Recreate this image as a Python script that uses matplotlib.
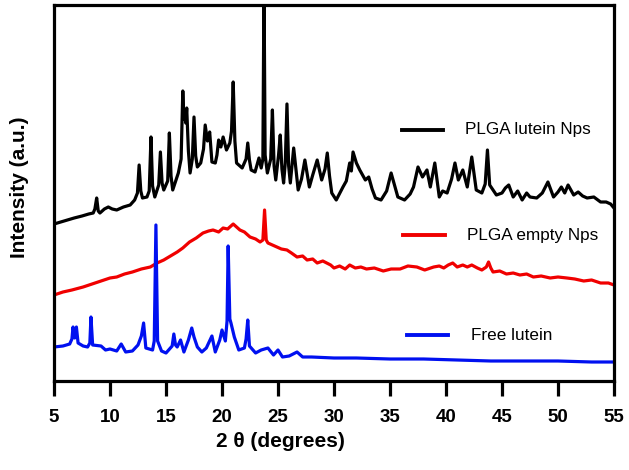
import matplotlib.pyplot as plt
import numpy as np

plt.rcParams['font.family'] = ['Liberation Sans', 'DejaVu Sans']

# 2theta / intensity (a.u.)
lutein_nps_x = [5.0, 5.6, 6.2, 6.8, 7.5, 8.1, 8.5, 8.65, 8.81, 8.95, 9.1, 9.5, 9.85, 10.2, 10.6,
                11.2, 11.8, 12.2, 12.45, 12.6, 12.75, 12.9, 13.3, 13.5, 13.66, 13.8, 14.0, 14.35,
                14.5, 14.65, 14.8, 15.15, 15.3, 15.45, 15.6, 16.1, 16.35, 16.5, 16.6, 16.67, 16.76,
                16.85, 17.0, 17.15, 17.35, 17.5, 17.65, 17.8, 18.1, 18.35, 18.5, 18.7, 18.9, 19.1,
                19.4, 19.55, 19.7, 19.9, 20.1, 20.4, 20.7, 20.85, 21.0, 21.15, 21.3, 21.8, 22.15,
                22.3, 22.45, 22.6, 22.95, 23.3, 23.5, 23.65, 23.75, 23.85, 24.05, 24.35, 24.5,
                24.65, 24.8, 25.05, 25.2, 25.35, 25.5, 25.65, 25.8, 25.95, 26.1, 26.4, 26.8, 27.1,
                27.4, 27.8, 28.1, 28.5, 28.9, 29.2, 29.4, 29.6, 29.8, 30.2, 30.8, 31.1, 31.4, 31.55,
                31.7, 32.0, 32.3, 32.8, 33.1, 33.4, 33.7, 34.2, 34.7, 35.1, 35.4, 35.7, 36.3, 36.8,
                37.1, 37.5, 37.9, 38.3, 38.6, 39.0, 39.4, 39.7, 40.1, 40.5, 40.8, 41.1, 41.5, 41.9,
                42.3, 42.7, 43.2, 43.5, 43.7, 43.9, 44.2, 44.5, 45.0, 45.3, 45.6, 46.0, 46.4, 46.8,
                47.2, 47.5, 48.1, 48.6, 49.1, 49.6, 50.0, 50.3, 50.6, 50.9, 51.4, 51.8, 52.2, 52.6,
                53.2, 53.8, 54.3, 54.7, 55.0]
lutein_nps_y = [157, 159, 161, 163, 165, 167, 168, 172, 183, 170, 168, 172, 174, 172, 171,
                174, 176, 181, 188, 216, 190, 183, 184, 190, 244, 195, 184, 196,
                229, 198, 191, 200, 248, 205, 191, 208, 222, 290, 262, 271, 258,
                273, 230, 208, 222, 264, 225, 214, 218, 232, 256, 240, 249, 219,
                218, 226, 241, 234, 244, 231, 238, 250, 299, 240, 218, 213, 222,
                238, 221, 211, 209, 223, 213, 222, 400, 226, 208, 222, 271,
                215, 201, 226, 246, 212, 198, 218, 277, 215, 198, 233, 191, 202,
                221, 194, 206, 221, 201, 212, 228, 205, 188, 181, 194, 200, 218, 210,
                229, 218, 211, 201, 204, 192, 183, 181, 190, 208, 196, 184, 181, 187,
                194, 214, 204, 211, 194, 218, 184, 190, 188, 202, 218, 201, 211, 194,
                224, 191, 188, 197, 231, 196, 191, 186, 188, 193, 196, 184, 190, 181,
                188, 184, 183, 188, 199, 184, 189, 194, 188, 196, 186, 189, 185, 183,
                184, 179, 179, 177, 173]

empty_nps_x = [5.0, 5.8, 6.6, 7.6, 8.4, 9.2, 10.0, 10.6, 11.3, 12.0, 12.8, 13.6, 14.2, 14.8, 15.4,
               16.0, 16.5, 17.1, 17.7, 18.3, 18.8, 19.2, 19.7, 20.1, 20.5, 21.0, 21.3, 21.6, 22.0,
               22.5, 23.0, 23.4, 23.65, 23.8, 23.95, 24.1, 24.5, 24.9, 25.3, 25.8, 26.2, 26.7, 27.2,
               27.6, 28.1, 28.5, 29.0, 29.7, 30.0, 30.5, 31.0, 31.4, 31.9, 32.4, 32.9, 33.6, 34.4,
               35.1, 35.9, 36.6, 37.4, 38.1, 38.9, 39.4, 39.8, 40.2, 40.6, 41.0, 41.5, 41.9, 42.3,
               42.8, 43.2, 43.6, 43.8, 44.0, 44.2, 44.8, 45.4, 46.0, 46.6, 47.2, 47.8, 48.5, 49.3,
               50.0, 50.8, 51.5, 52.3, 53.0, 53.8, 54.5, 55.0]
empty_nps_y = [86, 89, 91, 94, 97, 100, 103, 104, 107, 109, 112, 114, 118, 121, 125,
               129, 133, 139, 143, 148, 150, 151, 149, 153, 152, 157, 154, 151, 149,
               144, 142, 139, 141, 171, 141, 138, 136, 134, 132, 131, 128, 124, 125,
               121, 122, 118, 120, 116, 113, 115, 112, 116, 113, 114, 112, 113, 110,
               112, 112, 115, 114, 111, 114, 115, 113, 116, 118, 114, 116, 114, 116,
               113, 111, 114, 119, 113, 109, 110, 107, 108, 106, 107, 104, 105, 103,
               104, 103, 102, 100, 101, 98, 98, 96]

free_lutein_x = [5.0, 5.8, 6.4, 6.6, 6.7, 6.85, 7.0, 7.15, 7.6, 8.0, 8.2, 8.3, 8.45, 9.2, 9.6,
                 10.0, 10.6, 11.0, 11.4, 12.0, 12.5, 12.8, 13.0, 13.2, 13.8, 13.95, 14.1, 14.25,
                 14.6, 15.0, 15.55, 15.7, 15.85, 16.0, 16.3, 16.6, 17.0, 17.3, 17.5, 17.8, 18.2,
                 18.6, 19.1, 19.4, 19.8, 20.0, 20.3, 20.45, 20.55, 20.7, 20.8, 21.1, 21.5, 22.0,
                 22.15, 22.3, 22.45, 23.0, 23.5, 24.1, 24.6, 25.0, 25.4, 26.0, 26.7, 27.2, 28.0,
                 30.0, 32.0, 35.0, 38.0, 41.0, 44.0, 47.0, 50.0, 53.0, 55.0]
free_lutein_y = [34, 35, 37, 42, 54, 43, 54, 38, 35, 34, 38, 64, 36, 35, 31,
                 32, 30, 37, 29, 30, 36, 45, 58, 33, 31, 40, 156, 40,
                 30, 28, 35, 47, 36, 34, 41, 29, 41, 53, 44, 34, 29,
                 33, 45, 29, 41, 51, 40, 60, 135, 62, 58, 44, 31, 33,
                 42, 61, 35, 28, 31, 33, 26, 31, 24, 25, 29, 24, 24,
                 23, 23, 22, 22, 21, 20, 20, 20, 19, 19]

series = [
    (lutein_nps_x, lutein_nps_y, 'black', 'PLGA lutein Nps'),
    (empty_nps_x, empty_nps_y, '#f00000', 'PLGA empty Nps'),
    (free_lutein_x, free_lutein_y, '#0010f0', 'Free lutein'),
]

fig = plt.figure(figsize=(6.29, 4.70), dpi=100)
ax = fig.add_axes([54 / 629, 89 / 470, 560 / 629, 376 / 470])

for x, y, c, lab in series:
    ax.plot(x, y, color=c, lw=2.3)

# legend drawn by hand (spread out like the original)
leg_pos = [(0.621, 0.668, 0.734), (0.624, 0.388, 0.737), (0.630, 0.122, 0.745)]
for (x, y, c, lab), (lx, ly, tx) in zip(series, leg_pos):
    ax.plot([lx, lx + 0.074], [ly, ly], color=c, lw=2.8, transform=ax.transAxes)
    ax.text(tx, ly, lab, transform=ax.transAxes, fontsize=12.3, va='center', ha='left')

ax.set_xlim(5, 55)
ax.set_ylim(0, 376)
ax.set_xticks(np.arange(5, 56, 5))
ax.set_yticks([])
for sp in ax.spines.values():
    sp.set_linewidth(2.3)
ax.tick_params(axis='x', length=10.5, width=2.3, pad=10, labelsize=13.5)
for t in ax.get_xticklabels():
    t.set_fontweight('bold')
ax.set_xlabel('2 θ (degrees)', fontsize=15, fontweight='bold')
ax.xaxis.set_label_coords(0.404, -0.135)
ax.set_ylabel('Intensity (a.u.)', fontsize=15, fontweight='bold')
ax.yaxis.set_label_coords(-0.045, 0.516)

fig.savefig('out.png', dpi=100)
